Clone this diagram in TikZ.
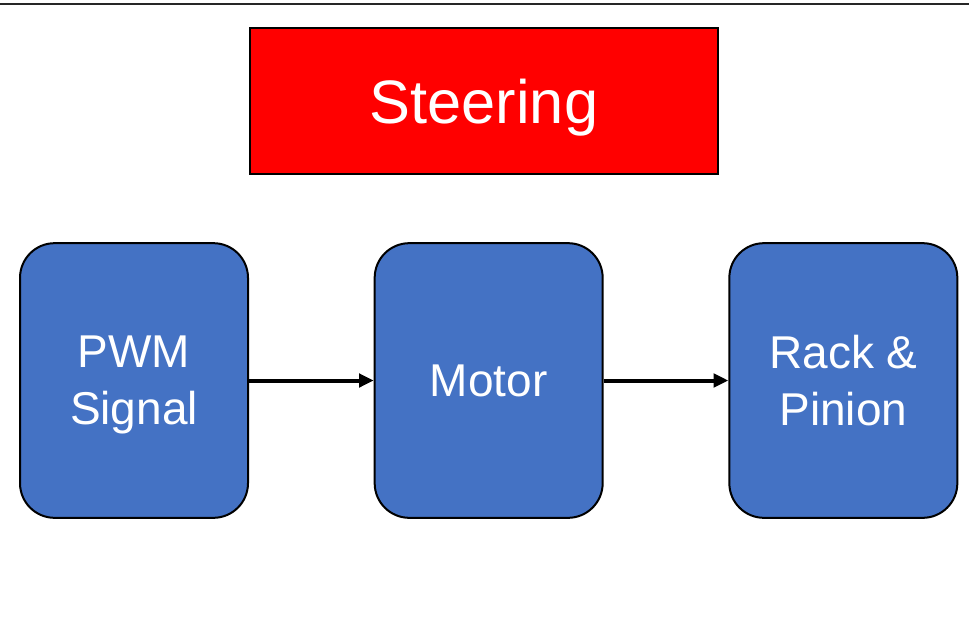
\documentclass[tikz,border=0pt]{standalone}
\usepackage{fontspec}
\setmainfont{Liberation Sans}
\usetikzlibrary{positioning,arrows.meta}
\definecolor{blockblue}{HTML}{4472C4}

\begin{document}
\begin{tikzpicture}[x=0.75pt, y=-0.75pt, >={Triangle[length=11pt,width=10pt]}, node distance=93.5pt, semithick]
  \tikzset{
    block/.style={draw=black, line width=1.5pt, fill=blockblue, rounded corners=26pt,
      minimum width=171pt, minimum height=206pt, text=white, align=center, text depth=0pt,
      font=\fontsize{34.5}{43}\selectfont},
    flow/.style={->, line width=3pt}
  }
  \useasboundingbox (0,0) rectangle (969,642);
  \draw[line width=2pt, black!85] (0,4) -- (969,4);

  % title
  \node[draw=black, line width=1.5pt, fill=red, minimum width=351pt, minimum height=109.5pt,
    text=white, text depth=0pt, font=\fontsize{46}{55}\selectfont] (title) at (484,101) {Steering};

  % blocks
  \node[block] (pwm) at (134,380.5) {PWM\\Signal};
  \node[block, right=of pwm] (motor) {Motor};
  \node[block, right=of motor] (rack) {Rack \&\\Pinion};

  \draw[flow] (pwm) -- (motor);
  \draw[flow] (motor) -- (rack);
\end{tikzpicture}
\end{document}
